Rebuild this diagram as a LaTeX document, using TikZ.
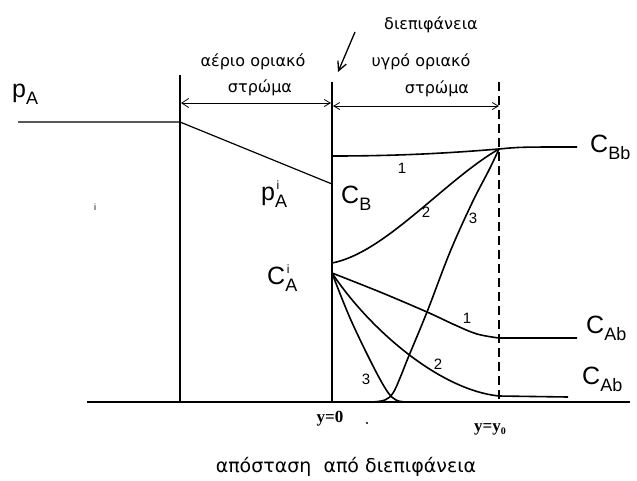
\documentclass[tikz,border=0pt]{standalone}
\usepackage{fontspec}
\setmainfont{Liberation Sans}
\newfontfamily\serifbold{Liberation Serif}
\newfontfamily\greek{DejaVu Sans}
\usetikzlibrary{arrows.meta}
\newcommand\Lbl[3]{{\fontsize{25}{25}\selectfont #1}\makebox[0pt][l]{\raisebox{11pt}{\fontsize{12}{12}\selectfont\hspace{1.5pt}#3}}\raisebox{-7pt}{\fontsize{18}{18}\selectfont #2}}
\begin{document}
\begin{tikzpicture}[x=1pt,y=-1pt,
  axisline/.style={line width=1.2pt},
  curve/.style={line width=1.6pt},
  dim/.style={line width=0.8pt,{Straight Barb[length=7pt,width=9pt]}-{Straight Barb[length=6pt,width=7pt]}},
  txt/.style={inner sep=0pt,font=\greek\fontsize{16}{16}\selectfont},
  num/.style={inner sep=0pt,font=\fontsize{15}{15}\selectfont},
  lbl/.style={inner sep=0pt,anchor=base west}]
\useasboundingbox (0,0) rectangle (637,480);
% key coordinates
\coordinate (b0) at (87,402);
\coordinate (b1) at (630,402);
\coordinate (g0t) at (180,75);
\coordinate (g0b) at (180,402);
\coordinate (i0t) at (332,82);
\coordinate (i0b) at (332,402);
\coordinate (l0t) at (499,82);
\coordinate (l0b) at (499,402);
\coordinate (pa0) at (18,122);
\coordinate (pa1) at (180,122);
\coordinate (pai) at (332,184);
\coordinate (cb) at (332,156);
\coordinate (cbb) at (499,149);
\coordinate (cbe) at (577,147);
\coordinate (cb2) at (332,263);
\coordinate (cai) at (332,273);
\coordinate (ca1) at (499,338);
\coordinate (ca1e) at (577,338);
\coordinate (ca2) at (499,396);
\coordinate (ca2e) at (568,397);
\coordinate (ga) at (181,103);
\coordinate (gb) at (331,103);
\coordinate (la) at (333,106);
\coordinate (lb) at (499,106);
\coordinate (ia) at (355,32);
\coordinate (ib) at (338,72);
% axes and boundaries
\draw[axisline] (b0) -- (b1);
\draw[axisline] (g0t) -- (g0b);
\draw[axisline] (i0t) -- (i0b);
\draw[line width=1.1pt,dash pattern=on 9pt off 5pt] (l0t) -- (l0b);
% partial pressure
\draw[axisline] (pa0) -- (pa1) -- (pai);
% C_B curves
\draw[curve] (cb) .. controls (400,156) and (450,153) .. (cbb) .. controls (520,147) .. (cbe);
\draw[curve] (cb2) .. controls (385,253) and (445,180) .. (cbb);
\draw[curve] plot[smooth,tension=0.6] coordinates {(372,402) (385,400) (393,393) (400,378) (408,358) (427,312) (450,252) (472,203) (489,170) (499,149)};
% C_A curves
\draw[curve] plot[smooth,tension=0.6] coordinates {(332,273) (380,292) (427,312) (455,325) (477,334) (499,338)} -- (ca1e);
\draw[curve] (cai) .. controls (370,330) and (440,390) .. (ca2) -- (ca2e);
\draw[curve] plot[smooth,tension=0.6] coordinates {(332,273) (350,318) (372,364) (387,391) (396,400) (406,402)};
% dimension arrows
\draw[dim] (ga) -- (gb);
\draw[dim,{Straight Barb[length=6pt,width=7pt]}-{Straight Barb[length=6pt,width=7pt]}] (la) -- (lb);
\draw[line width=1.3pt,-{Straight Barb[length=9pt,width=9pt]}] (ia) -- (ib);
% texts
\node[txt] (tdi) at (431,25) {διεπιφάνεια};
\node[txt] (tg1) at (253,62) {αέριο οριακό};
\node[txt] (tg2) at (260,88) {στρώμα};
\node[txt] (tl1) at (421,62) {υγρό οριακό};
\node[txt] (tl2) at (437,89) {στρώμα};
\node[txt,font=\greek\fontsize{19}{19}\selectfont] (tax) at (346,467) {απόσταση\ \ από διεπιφάνεια};
\node[inner sep=0pt,font=\serifbold\bfseries\fontsize{17}{17}\selectfont] (y0) at (330,419) {y=0};
\node[inner sep=0pt,font=\serifbold\bfseries\fontsize{17}{17}\selectfont] (y1) at (490,429) {y=y\raisebox{-3pt}{\fontsize{10}{10}\selectfont 0}};
% labels
\node[lbl] (lpa) at (12,97) {\Lbl{p}{A}{}};
\node[lbl] (lpai) at (261,200) {\Lbl{p}{A}{i}};
\node[lbl] (lcb) at (341,203) {\Lbl{C}{B}{}};
\node[lbl] (lcai) at (267,284) {\Lbl{C}{A}{i}};
\node[lbl] (lcbb) at (590,152) {\Lbl{C}{Bb}{}};
\node[lbl] (lcab1) at (586,333) {\Lbl{C}{Ab}{}};
\node[lbl] (lcab2) at (582,384) {\Lbl{C}{Ab}{}};
% curve numbers
\node[num] (n1) at (402,168) {1};
\node[num] (n2) at (426,212) {2};
\node[num] (n3) at (473,218) {3};
\node[num] (m1) at (467,318) {1};
\node[num] (m2) at (438,364) {2};
\node[num] (m3) at (366,379) {3};
% stray marks
\node[inner sep=0pt,font=\fontsize{9}{9}\selectfont] (si) at (95,207) {i};
\fill (367,423) circle (1.1pt);
\end{tikzpicture}
\end{document}
